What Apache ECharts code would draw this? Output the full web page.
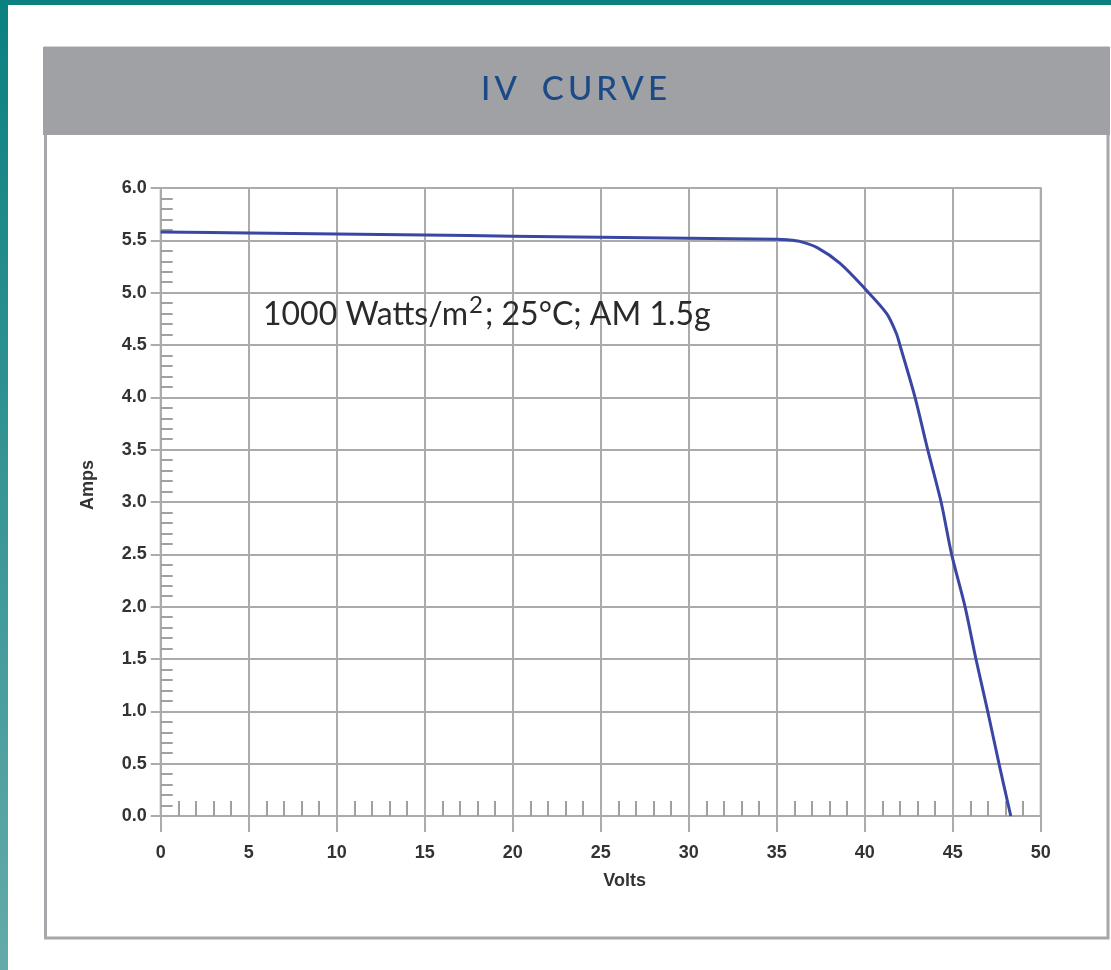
<!DOCTYPE html>
<html>
<head>
<meta charset="utf-8">
<script src="https://cdn.jsdelivr.net/npm/echarts@6/dist/echarts.min.js"></script>
<style>
  html, body { margin: 0; padding: 0; background: #ffffff; }
  #chart { width: 1111px; height: 970px; }
</style>
</head>
<body>
<div id="chart"></div>
<script>
// ---- data ----
var chartTitle = 'IV CURVE';
var xAxisName = 'Volts';
var yAxisName = 'Amps';
var conditionsText = ['1000 Watts/m', '2', '; 25°C; AM 1.5g'];
var volts = [0, 5, 10, 15, 20, 25, 30, 35, 35.6, 36.3, 37.3, 38.6, 40.0, 41.25, 41.8, 42.0, 42.86, 43.58, 44.34, 44.94, 45.7, 46.32, 46.99, 47.63, 48.3];
var amps  = [5.58, 5.57, 5.56, 5.55, 5.54, 5.53, 5.52, 5.51, 5.505, 5.49, 5.43, 5.28, 5.04, 4.80, 4.61, 4.50, 4.0, 3.5, 3.0, 2.5, 2.0, 1.5, 1.0, 0.5, 0];
var xMin = 0, xMax = 50, xStep = 5;
var yMin = 0, yMax = 6, yStep = 0.5;

var curve = volts.map(function (v, i) { return [v, amps[i]]; });

var gridColor = '#ababab';
var labelStyle = { color: '#333333', fontFamily: 'Liberation Sans, Arial, sans-serif', fontWeight: 'bold', fontSize: 18 };

var chart = echarts.init(document.getElementById('chart'), null, { renderer: 'canvas' });

var spacedTitle = chartTitle.split(' ').map(function (w) { return w.split('').join('\u2009'); }).join('\u2003');

var option = {
  backgroundColor: '#ffffff',
  animation: false,
  grid: {
    left: 160.7, right: 70.3, top: 188, bottom: 154,
    show: true, borderColor: gridColor, borderWidth: 2,
    containLabel: false, outerBoundsMode: 'none'
  },
  xAxis: [
    {
      type: 'value', min: xMin, max: xMax, interval: xStep, position: 'bottom',
      name: xAxisName, nameLocation: 'middle', nameGap: 56,
      nameTextStyle: Object.assign({ padding: [0, 0, 0, 48] }, labelStyle),
      axisLine: { show: true, lineStyle: { color: gridColor, width: 2 } },
      axisTick: { show: true, inside: false, length: 16, lineStyle: { color: gridColor, width: 2 } },
      axisLabel: Object.assign({ margin: 28 }, labelStyle),
      splitLine: { show: true, lineStyle: { color: gridColor, width: 2 } },
      minorTick: { show: false }
    },
    {
      type: 'value', min: xMin, max: xMax, interval: xStep, position: 'bottom', offset: 0,
      axisLine: { show: false },
      axisTick: { show: false, inside: true },
      axisLabel: { show: false },
      splitLine: { show: false },
      minorTick: { show: true, splitNumber: 5, length: 15, lineStyle: { color: '#a0a0a0', width: 2 } }
    }
  ],
  yAxis: [
    {
      type: 'value', min: yMin, max: yMax, interval: yStep, position: 'left',
      name: yAxisName, nameLocation: 'middle', nameGap: 64, nameRotate: 90,
      nameTextStyle: Object.assign({ padding: [0, 0, 0, 34] }, labelStyle),
      axisLine: { show: true, lineStyle: { color: gridColor, width: 2 } },
      axisTick: { show: true, inside: false, length: 10, lineStyle: { color: gridColor, width: 2 } },
      axisLabel: Object.assign({ margin: 14, formatter: function (v) { return v.toFixed(1); } }, labelStyle),
      splitLine: { show: true, lineStyle: { color: gridColor, width: 2 } },
      minorTick: { show: false }
    },
    {
      type: 'value', min: yMin, max: yMax, interval: yStep, position: 'left', offset: 0,
      axisLine: { show: false },
      axisTick: { show: false, inside: true },
      axisLabel: { show: false },
      splitLine: { show: false },
      minorTick: { show: true, splitNumber: 5, length: 12, lineStyle: { color: '#a0a0a0', width: 2 } }
    }
  ],
  series: [
    {
      type: 'line', xAxisIndex: 0, yAxisIndex: 0,
      data: curve, showSymbol: false, symbol: 'none',
      smooth: 0.3,
      lineStyle: { color: '#3a46a4', width: 3 },
      z: 5
    }
  ],
  graphic: [
    { type: 'rect', shape: { x: 0, y: 0, width: 8, height: 970 }, z: 100,
      style: { fill: new echarts.graphic.LinearGradient(0, 0, 0, 1, [{ offset: 0, color: '#0a8080' }, { offset: 1, color: '#64aaaa' }]) } },
    { type: 'rect', shape: { x: 0, y: 0, width: 1111, height: 5 }, z: 100, style: { fill: '#0a8080' } },
    { type: 'rect', shape: { x: 45.5, y: 48, width: 1062.5, height: 890 }, z: -10,
      style: { fill: 'none', stroke: '#a7a8ac', lineWidth: 3 } },
    { type: 'rect', shape: { x: 43, y: 47, width: 1067, height: 88 }, z: -5, style: { fill: '#a0a1a5' } },
    { type: 'text', x: 574, y: 89, z: 10,
      style: { text: spacedTitle, fill: '#1b4a86', font: '500 33px Lato, "Open Sans", sans-serif',
               align: 'center', verticalAlign: 'middle' } },
    { type: 'text', x: 263, y: 293, z: 10,
      style: {
        text: '{a|' + conditionsText[0] + '}{s|' + conditionsText[1] + '}{a|' + conditionsText[2] + '}',
        rich: {
          a: { fontFamily: 'Lato, sans-serif', fontSize: 32, fill: '#2a2a2a', color: '#2a2a2a', lineHeight: 38, verticalAlign: 'bottom' },
          s: { fontFamily: 'Lato, sans-serif', fontSize: 24, fill: '#2a2a2a', color: '#2a2a2a', lineHeight: 38, verticalAlign: 'top', padding: [0, 2, 10, 1] }
        },
        align: 'left', verticalAlign: 'top'
      } }
  ]
};
chart.setOption(option);
</script>
</body>
</html>
